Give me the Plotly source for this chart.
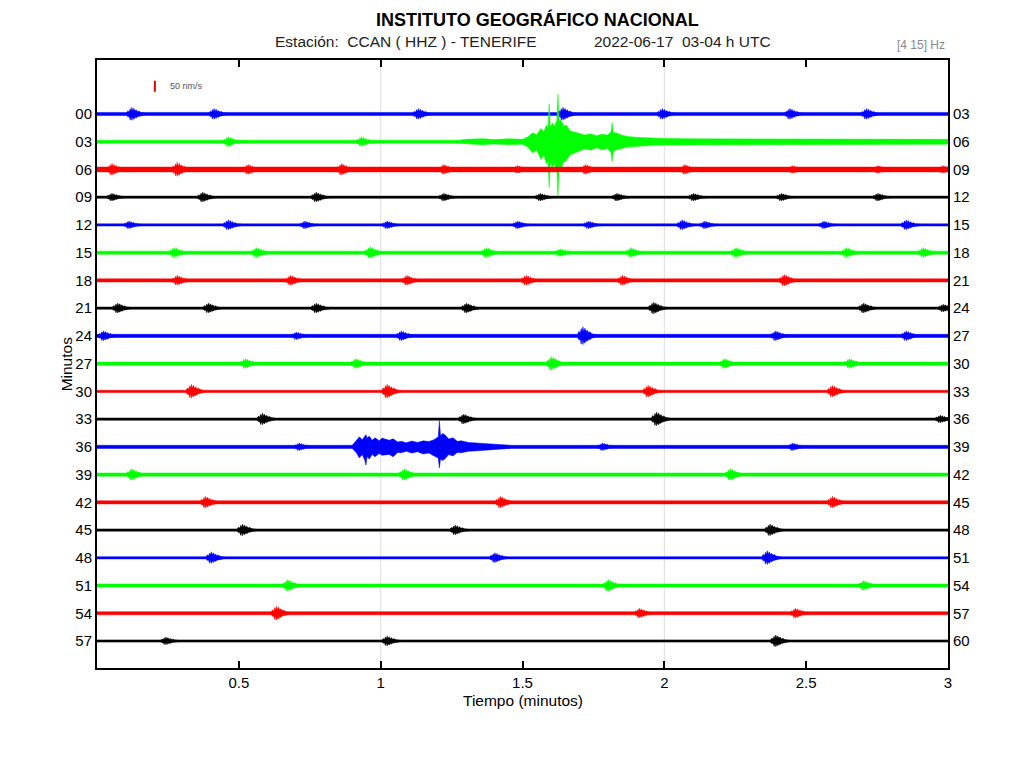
import plotly.graph_objects as go

# helicorder rows (3 minutes each), labels on both sides
row_labels = ['00', '03', '06', '09', '12', '15', '18', '21', '24', '27',
              '30', '33', '36', '39', '42', '45', '48', '51', '54', '57']
right_labels = ['03', '06', '09', '12', '15', '18', '21', '24', '27', '30',
                '33', '36', '39', '42', '45', '48', '51', '54', '57', '60']
row_colors = ['#0000ff', '#00ff00', '#ff0000', '#000000'] * 5

# background noise half-amplitude per row (nm/s)
noise_nms = [7, 7, 11, 5, 5, 7, 7, 5, 7, 7,
             5, 5, 7, 7, 7, 5, 5, 7, 7, 5]

# small events per row: (time in minutes, peak half-amplitude nm/s)
events = [
    [(0.13, 30), (0.42, 25), (1.14, 25), (1.65, 30), (2.00, 25), (2.45, 25), (2.72, 25)],
    [(0.47, 23), (0.94, 23)],
    [(0.06, 27), (0.29, 32), (0.54, 23), (0.87, 27), (1.23, 23), (1.49, 18), (1.73, 23),
     (2.08, 23), (2.46, 18), (2.76, 18), (2.99, 18)],
    [(0.06, 18), (0.38, 23), (0.78, 23), (1.23, 18), (1.57, 18), (1.84, 18), (2.11, 18),
     (2.42, 18), (2.76, 18)],
    [(0.12, 18), (0.47, 23), (0.74, 18), (1.03, 18), (1.49, 18), (1.74, 18), (2.07, 23),
     (2.15, 18), (2.57, 18), (2.86, 23)],
    [(0.28, 23), (0.57, 23), (0.97, 27), (1.38, 23), (1.64, 18), (1.89, 23), (2.26, 23),
     (2.65, 23), (2.92, 23)],
    [(0.29, 23), (0.69, 23), (1.10, 23), (1.52, 23), (1.86, 23), (2.43, 27)],
    [(0.08, 23), (0.40, 23), (0.78, 23), (1.31, 23), (1.97, 27), (2.71, 23), (2.99, 18)],
    [(0.03, 23), (0.71, 18), (1.08, 23), (1.72, 41), (2.40, 23), (2.86, 23)],
    [(0.53, 23), (0.92, 23), (1.61, 32), (2.22, 23), (2.66, 23)],
    [(0.34, 32), (1.03, 32), (1.95, 27), (2.60, 27)],
    [(0.59, 27), (1.30, 23), (1.98, 32), (2.98, 18)],
    [(0.72, 18), (1.79, 18), (2.46, 18)],
    [(0.13, 27), (1.09, 27), (2.24, 27)],
    [(0.39, 27), (1.43, 27), (2.60, 27)],
    [(0.52, 27), (1.27, 23), (2.38, 27)],
    [(0.41, 27), (1.41, 23), (2.37, 32)],
    [(0.68, 27), (1.81, 27), (2.71, 23)],
    [(0.64, 32), (1.92, 23), (2.47, 23)],
    [(0.25, 18), (1.03, 23), (2.40, 27)],
]

# larger earthquakes, envelope: time, up, down (nm/s)
quake_03_t = [1.28, 1.30, 1.36, 1.40, 1.45, 1.50, 1.52, 1.535, 1.55, 1.565, 1.575, 1.585,
              1.590, 1.594, 1.598, 1.605, 1.612, 1.621, 1.625, 1.629, 1.635, 1.645, 1.655,
              1.667, 1.68, 1.695, 1.72, 1.74, 1.76, 1.78, 1.80, 1.812, 1.816, 1.82, 1.83,
              1.845, 1.87, 1.90, 1.95, 2.00, 2.11, 2.30, 2.60, 3.0]
quake_03_up = [7, 11, 14, 10, 13, 11, 23, 40, 32, 60, 45, 75, 60, 170, 65, 85, 70, 95,
               215, 90, 100, 70, 75, 50, 45, 40, 30, 36, 27, 34, 30, 45, 86, 40, 40,
               32, 24, 20, 17, 15, 13, 12, 12, 11]
quake_03_dn = [7, 11, 14, 10, 13, 11, 25, 50, 38, 80, 60, 100, 85, 205, 90, 120, 100, 125,
               250, 115, 130, 90, 85, 60, 50, 45, 32, 38, 27, 36, 30, 50, 91, 42, 40,
               32, 24, 20, 17, 15, 13, 12, 12, 11]

quake_36_t = [0.90, 0.915, 0.925, 0.935, 0.944, 0.948, 0.952, 0.96, 0.97, 0.98, 0.995,
              1.005, 1.015, 1.03, 1.044, 1.06, 1.073, 1.09, 1.11, 1.13, 1.15, 1.17, 1.188,
              1.198, 1.203, 1.207, 1.211, 1.218, 1.226, 1.24, 1.255, 1.27, 1.284, 1.31,
              1.34, 1.38, 1.418, 1.456]
quake_36_up = [7, 30, 45, 32, 50, 55, 40, 48, 30, 41, 28, 40, 35, 30, 36, 22, 25, 18, 26,
               20, 27, 24, 32, 40, 45, 118, 50, 60, 55, 35, 41, 25, 27, 20, 18, 14, 12, 7]
quake_36_dn = [7, 28, 50, 35, 60, 82, 45, 55, 35, 45, 30, 38, 36, 34, 45, 25, 27, 20, 28,
               22, 32, 28, 41, 48, 50, 95, 55, 62, 55, 35, 41, 25, 27, 20, 18, 14, 12, 7]

big_events = {1: (quake_03_t, quake_03_up, quake_03_dn),
              12: (quake_36_t, quake_36_up, quake_36_dn)}

# spindle shape used for the small events
spindle_dt = [-0.026, -0.021, -0.017, -0.013, -0.010, -0.007, -0.004, 0.0, 0.004,
              0.008, 0.013, 0.018, 0.024, 0.032, 0.042]
spindle_up = [0.15, 0.5, 0.3, 0.8, 0.45, 1.0, 0.5, 0.85, 0.45, 0.65, 0.35, 0.45, 0.25, 0.2, 0.1]
spindle_dn = [0.15, 0.45, 0.35, 0.9, 0.4, 0.95, 0.55, 0.8, 0.5, 0.6, 0.4, 0.4, 0.25, 0.2, 0.1]

scale_nms = 50
gain = 0.4 / scale_nms          # row units per nm/s (scale bar is 0.4 row tall)
grid_minutes = [1, 2]
tick_minutes = [0.5, 1, 1.5, 2, 2.5, 3]

fig = go.Figure()

for i, label in enumerate(row_labels):
    base = -i
    n = noise_nms[i] * gain
    xs = [0, 3, 3, 0, 0, None]
    ys = [base + n, base + n, base - n, base - n, base + n, None]
    for t0, amp in events[i]:
        tx = [t0 + d for d in spindle_dt]
        xs += tx + tx[::-1] + [None]
        ys += [base + amp * gain * u for u in spindle_up]
        ys += [base - amp * gain * d for d in spindle_dn][::-1] + [None]
    if i in big_events:
        bt, bu, bd = big_events[i]
        xs += list(bt) + list(bt)[::-1] + [None]
        ys += [base + u * gain for u in bu] + [base - d * gain for d in bd][::-1] + [None]
    fig.add_trace(go.Scatter(x=xs, y=ys, mode='lines', fill='toself',
                             fillcolor=row_colors[i],
                             line=dict(color=row_colors[i], width=0.5),
                             showlegend=False, hoverinfo='skip', name=label))

# amplitude scale bar
fig.add_trace(go.Scatter(x=[0.204, 0.204], y=[1 - scale_nms * gain / 2, 1 + scale_nms * gain / 2],
                         mode='lines', line=dict(color='#e00000', width=2),
                         showlegend=False, hoverinfo='skip'))
fig.add_trace(go.Scatter(x=[None], y=[None], yaxis='y2', showlegend=False))

for g in grid_minutes:
    fig.add_vline(x=g, line_color='#dddddd', line_width=1, layer='below')

# the page body adds an 8 px offset, so the figure is 8 px smaller than the window
yrange = [-19.973, 1.947]
fig.update_layout(
    width=1017, height=760,
    margin=dict(l=89, r=77, t=52, b=100),
    plot_bgcolor='white', paper_bgcolor='white',
    font=dict(family='Liberation Sans, Arial, sans-serif', color='black', size=14),
    xaxis=dict(range=[0, 3], tickvals=tick_minutes, ticktext=['0.5', '1', '1.5', '2', '2.5', '3'],
               ticks='inside', ticklen=7, tickwidth=2, tickcolor='black',
               showline=True, linewidth=2, linecolor='black', mirror='ticks',
               showgrid=False, zeroline=False, tickfont=dict(size=15), automargin=False),
    yaxis=dict(range=yrange, tickvals=[-i for i in range(20)], ticktext=row_labels,
               ticks='', showline=True, linewidth=2, linecolor='black', mirror=True,
               showgrid=False, zeroline=False, tickfont=dict(size=15), automargin=False),
    yaxis2=dict(range=yrange, overlaying='y', side='right',
                tickvals=[-i for i in range(20)], ticktext=right_labels,
                ticks='', showgrid=False, zeroline=False, showline=False,
                ticklabelstandoff=4, tickfont=dict(size=15), automargin=False),
    annotations=[
        dict(text='<b>INSTITUTO GEOGRÁFICO NACIONAL</b>', xref='paper', yref='paper',
             x=0.518, y=1.066, xanchor='center', yanchor='middle', showarrow=False,
             font=dict(size=18)),
        dict(text='Estación:  CCAN ( HHZ ) - TENERIFE', xref='paper', yref='paper',
             x=0.207, y=1.030, xanchor='left', yanchor='middle', showarrow=False,
             font=dict(size=15.5, color='#222')),
        dict(text='2022-06-17  03-04 h UTC', xref='paper', yref='paper',
             x=0.582, y=1.030, xanchor='left', yanchor='middle', showarrow=False,
             font=dict(size=15.5, color='#222')),
        dict(text='[4 15] Hz', xref='paper', yref='paper', x=0.999, y=1.025,
             xanchor='right', yanchor='middle', showarrow=False,
             font=dict(size=12, color='#888')),
        dict(text='50 nm/s', xref='x', yref='y', x=0.25, y=1.0, xanchor='left',
             yanchor='middle', showarrow=False, font=dict(size=9, color='#555')),
        dict(text='Tiempo (minutos)', xref='paper', yref='paper', x=0.5, y=-0.054,
             xanchor='center', yanchor='middle', showarrow=False, font=dict(size=15.5)),
        dict(text='Minutos', xref='paper', yref='paper', x=-0.036, y=0.5,
             xanchor='center', yanchor='middle', textangle=-90, showarrow=False,
             font=dict(size=15.5)),
    ],
)

fig.write_html('out.html')
